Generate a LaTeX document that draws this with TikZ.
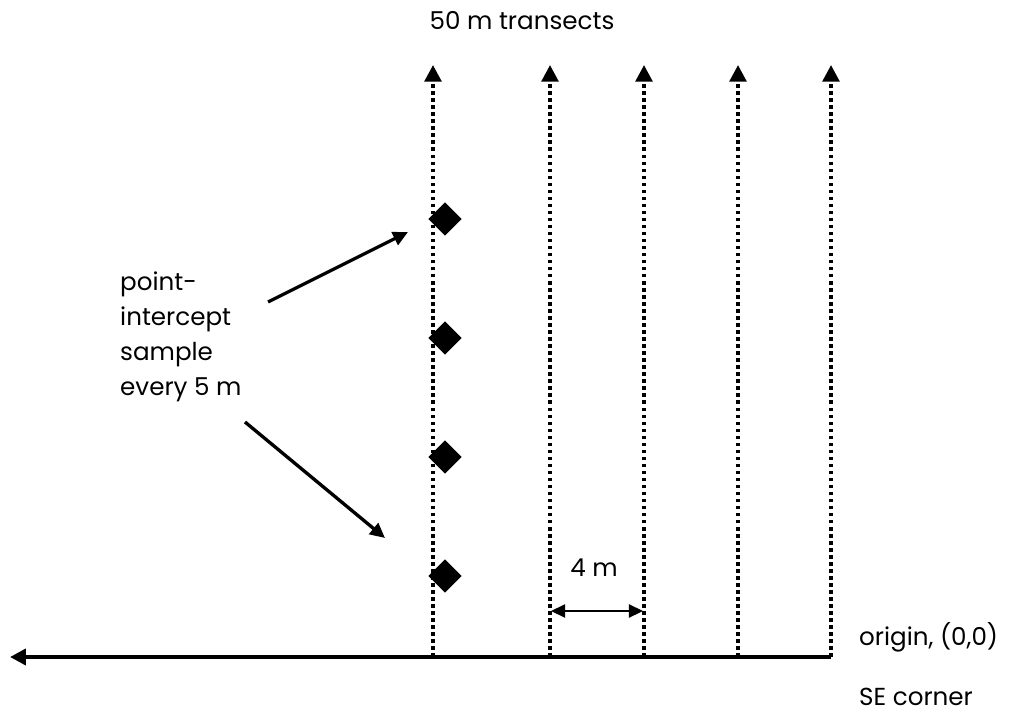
\documentclass[tikz,border=0pt]{standalone}
\usepackage{fontspec}
\setmainfont{Poppins}
\usetikzlibrary{shapes.geometric,arrows.meta}

\begin{document}
\begin{tikzpicture}[x=0.02cm,y=-0.02cm,
  transect/.style={line width=2.1pt,dash pattern=on 2pt off 2pt,
    -{Triangle[length=9.5pt,width=9.5pt]}},
  axisline/.style={line width=2.4pt,-{Triangle[length=9pt,width=9pt]}},
  samplept/.style={diamond,fill=black,inner sep=0pt,minimum size=19pt},
  pointer/.style={line width=1.9pt,-{Triangle[length=8.5pt,width=8pt]}},
  dim/.style={line width=0.9pt,{Triangle[length=8pt,width=7.5pt]}-{Triangle[length=8pt,width=7.5pt]}},
  lbl/.style={font=\fontsize{14}{19.8}\selectfont}]
\useasboundingbox (0,0) rectangle (1013,719);

% transects and the baseline
\coordinate (west) at (10,657);
\foreach \x [count=\i] in {433,550,644,738,831}{
  \coordinate (b\i) at (\x,657);
  \coordinate (t\i) at (\x,65);
  \draw[transect] (b\i) -- (t\i);
}
\draw[axisline] (b5) -- (west);

% sample points
\foreach \y [count=\i] in {219,338,457,576}
  \node[samplept] (s\i) at (445,\y) {};

% labels
\node[lbl] (title) at (522,21) {50 m transects};
\node[lbl,align=left,anchor=north west] (pilbl) at (114,266)
  {point-\\intercept\\sample\\every 5 m};
\node[lbl,anchor=west] (origin) at (853,637) {origin, (0,0)};
\node[lbl,anchor=west] (corner) at (853,697) {SE corner};
\node[lbl] (spacing) at (594,568) {4 m};

% pointers
\coordinate (p1) at (268,302);
\coordinate (q1) at (408,232);
\coordinate (p2) at (245,422);
\coordinate (q2) at (385,538);
\draw[pointer] (p1) -- (q1);
\draw[pointer] (p2) -- (q2);

% spacing between transects
\coordinate (d1) at (551,611);
\coordinate (d2) at (643,611);
\draw[dim] (d1) -- (d2);
\end{tikzpicture}
\end{document}
